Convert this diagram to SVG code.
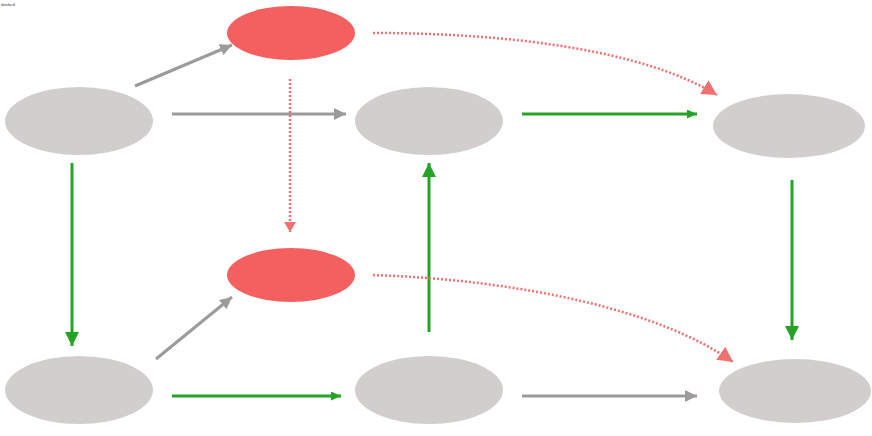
<svg xmlns="http://www.w3.org/2000/svg" width="872" height="436" viewBox="0 0 872 436">
<defs>
<style>
.node{fill:#d3cece}
.red{fill:#f46060}
.g{stroke:#9d9a9a;stroke-width:3;fill:none}
.gr{stroke:#25a325;stroke-width:3;fill:none}
.d{stroke:#f07070;stroke-width:2.5;stroke-dasharray:2,2;fill:none}
</style>
<marker id="mg" markerUnits="userSpaceOnUse" markerWidth="14" markerHeight="12" refX="12" refY="6" orient="auto"><path d="M0,0 L12,6 L0,12 z" fill="#9d9a9a"/></marker>
<marker id="mgr" markerUnits="userSpaceOnUse" markerWidth="16" markerHeight="14" refX="14" refY="7" orient="auto"><path d="M0,0 L14,7 L0,14 z" fill="#25a325"/></marker>
<marker id="mgrs" markerUnits="userSpaceOnUse" markerWidth="12" markerHeight="10" refX="10" refY="4.5" orient="auto"><path d="M0,0 L10,4.5 L0,9 z" fill="#25a325"/></marker>
<marker id="mr" markerUnits="userSpaceOnUse" markerWidth="18" markerHeight="18" refX="15" refY="8" orient="auto"><path d="M0,0 L15,8 L0,16 z" fill="#f07070"/></marker>
<marker id="mrs" markerUnits="userSpaceOnUse" markerWidth="12" markerHeight="14" refX="10" refY="6" orient="auto"><path d="M0,0 L10,6 L0,12 z" fill="#f07070"/></marker>
</defs>
<text x="1" y="6" font-family="Liberation Serif, serif" font-size="5" fill="#333">dashed</text>
<g id="connectors">
<path class="g" d="M135,86 L232,45" marker-end="url(#mg)"/>
<path class="g" d="M172,114 L346,114" marker-end="url(#mg)"/>
<path class="d" d="M290,79 L290,232" marker-end="url(#mrs)"/>
<path class="d" d="M373,33 C500,33 640,48 717,95" marker-end="url(#mr)"/>
<path class="gr" d="M522,114 L697,114" marker-end="url(#mgrs)"/>
<path class="gr" d="M72,163 L72,346" marker-end="url(#mgr)"/>
<path class="gr" d="M429,332 L429,163" marker-end="url(#mgr)"/>
<path class="gr" d="M792,180 L792,340" marker-end="url(#mgr)"/>
<path class="g" d="M156,359 L232,297" marker-end="url(#mg)"/>
<path class="gr" d="M172,396 L341,396" marker-end="url(#mgrs)"/>
<path class="g" d="M522,396 L697,396" marker-end="url(#mg)"/>
<path class="d" d="M373,275 C520,280 660,310 733,362" marker-end="url(#mr)"/>
</g>
<g id="n1"><ellipse class="node" cx="79" cy="121" rx="74" ry="34"/></g>
<g id="n2"><ellipse class="red" cx="291" cy="33" rx="64" ry="27"/></g>
<g id="n3"><ellipse class="node" cx="429" cy="121" rx="74" ry="34"/></g>
<g id="n4"><ellipse class="node" cx="789" cy="126" rx="76" ry="32"/></g>
<g id="n5"><ellipse class="red" cx="291" cy="275" rx="64" ry="27"/></g>
<g id="n6"><ellipse class="node" cx="79" cy="390" rx="74" ry="34"/></g>
<g id="n7"><ellipse class="node" cx="429" cy="390" rx="74" ry="34"/></g>
<g id="n8"><ellipse class="node" cx="795" cy="391" rx="76" ry="32"/></g>
</svg>
